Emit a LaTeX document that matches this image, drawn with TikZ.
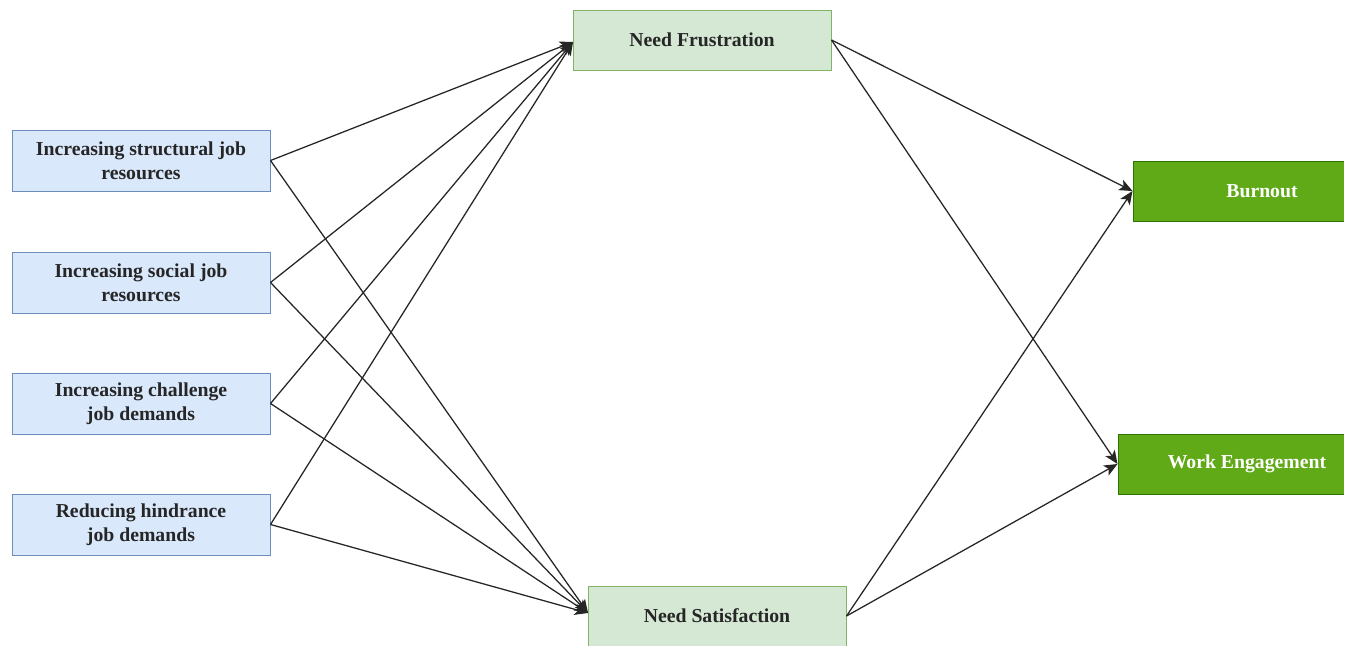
\documentclass[tikz,border=0pt]{standalone}
\usepackage{fontspec}
\setmainfont{Liberation Serif}
\usetikzlibrary{arrows.meta}
\definecolor{bfill}{HTML}{DAE8FC}
\definecolor{bdraw}{HTML}{6C8EBF}
\definecolor{gfill}{HTML}{D5E8D4}
\definecolor{gdraw}{HTML}{82B366}
\definecolor{dfill}{HTML}{60A917}
\definecolor{ddraw}{HTML}{2D7600}
\tikzset{
  box/.style={rectangle, minimum width=193.5pt, minimum height=45.75pt, inner sep=0pt,
    align=center, font=\bfseries\fontsize{14.8}{18}\selectfont, line width=0.75pt},
  srcbox/.style={box, fill=bfill, draw=bdraw, text=black!85},
  medbox/.style={box, fill=gfill, draw=gdraw, text=black!85, minimum height=45pt},
  outbox/.style={box, fill=dfill, draw=ddraw, text=white, minimum height=45pt},
  conn/.style={draw=black!85, line width=0.95pt, -{Stealth[length=10pt,width=8.5pt,inset=2.5pt]}}
}
\begin{document}
\begin{tikzpicture}[x=0.75pt,y=-0.75pt]
\useasboundingbox (0,0) rectangle (1350,646);
\clip (0,0) rectangle (1350,646);
\fill[white] (0,0) rectangle (1350,646);
\node[srcbox] (b1) at (141,160.5) {Increasing structural job\\resources};
\node[srcbox] (b2) at (141,282.5) {Increasing social job\\resources};
\node[srcbox] (b3) at (141,403.5) {Increasing challenge\\job demands};
\node[srcbox] (b4) at (141,524.5) {Reducing hindrance\\job demands};
\node[medbox] (nf) at (702,40) {Need Frustration};
\node[medbox] (ns) at (717,616) {Need Satisfaction};
\node[outbox] (bo) at (1262,191) {Burnout};
\node[outbox] (we) at (1247,464) {Work Engagement};
\fill[white] (1344,0) rectangle (1350,646);
\coordinate (nfin) at (573,42);
\coordinate (nsin) at (588,613);
\foreach \b in {b1,b2,b3,b4}{
  \draw[conn] (\b.east) -- (nfin);
  \draw[conn] (\b.east) -- (nsin);
}
\draw[conn] (nf.east) -- (bo.west);
\draw[conn] (nf.east) -- (we.west);
\draw[conn] (ns.east) -- (bo.west);
\draw[conn] (ns.east) -- (we.west);
\end{tikzpicture}
\end{document}
